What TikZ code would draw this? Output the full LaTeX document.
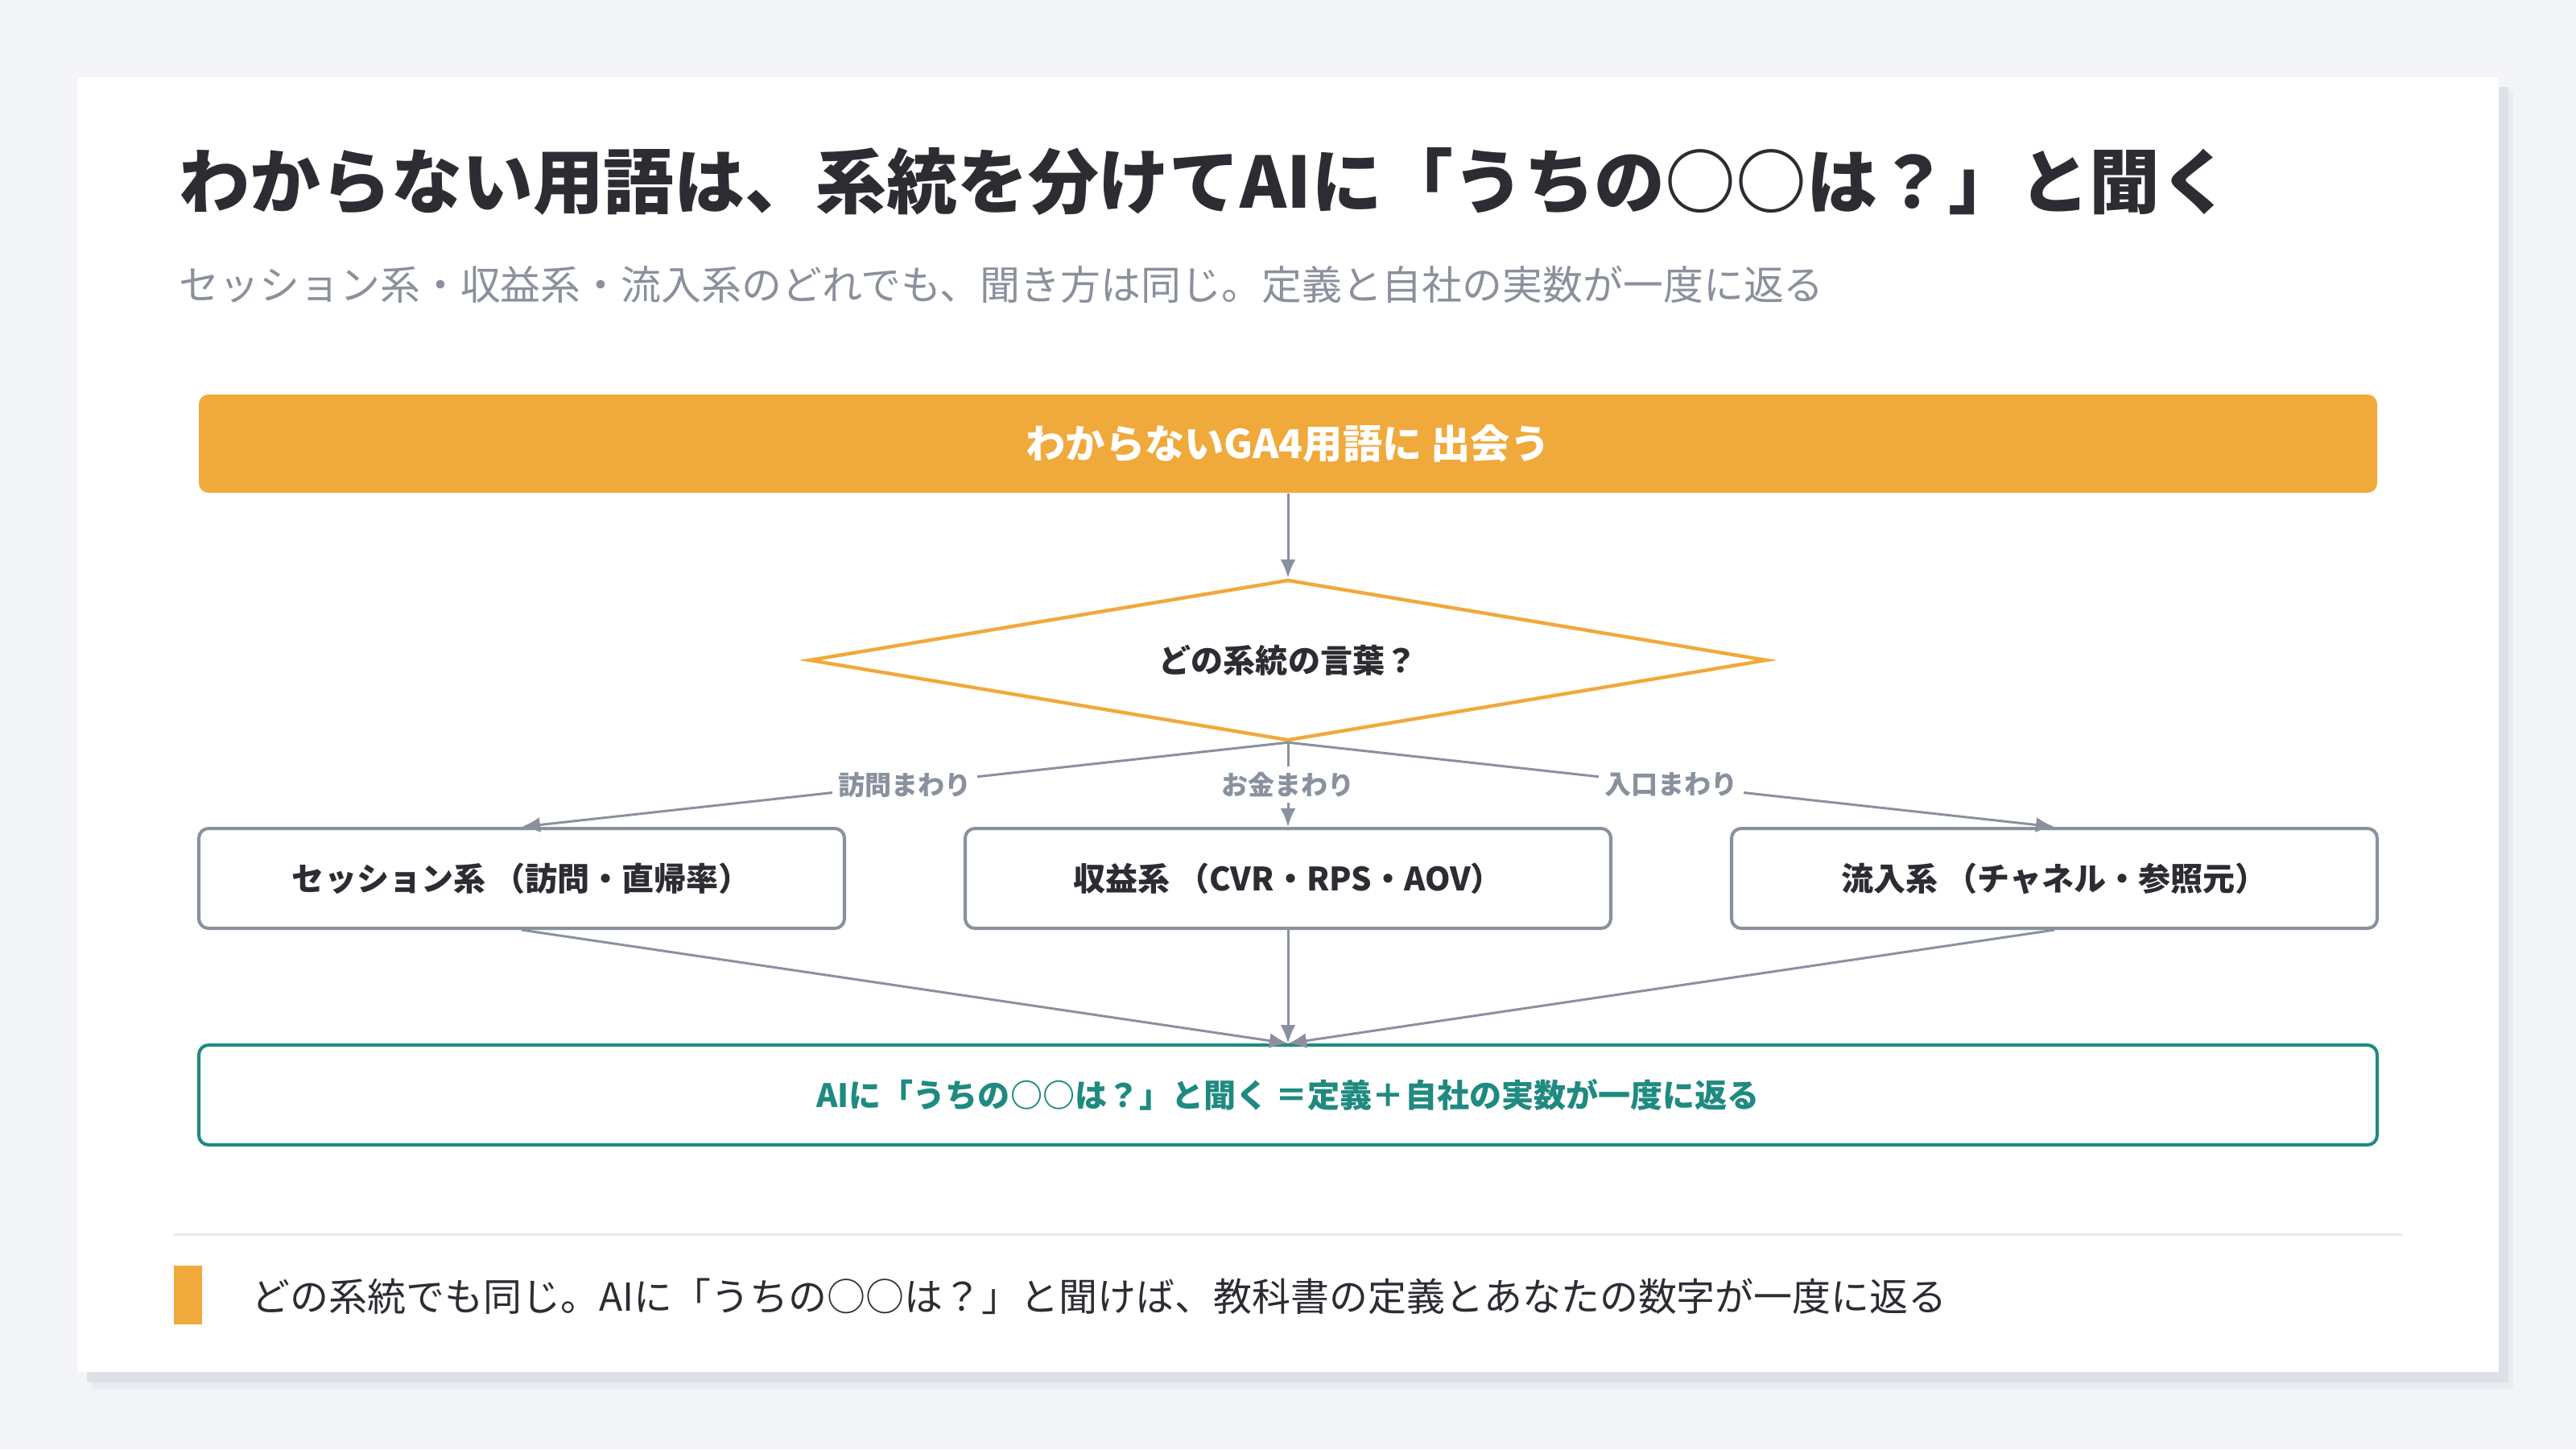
\documentclass[tikz,border=0pt]{standalone}
\usepackage{fontspec}
\setmainfont{Noto Sans CJK JP}
\usepackage{tikz}
\usetikzlibrary{shapes.geometric,arrows.meta,positioning,calc}
\usepackage{xcolor}
\definecolor{pageback}{RGB}{243,244,248}
\definecolor{cardshadow}{RGB}{222,224,231}
\definecolor{cardhalo}{RGB}{234,235,240}
\definecolor{termorange}{RGB}{240,169,59}
\definecolor{flowgray}{RGB}{138,145,158}
\definecolor{answerteal}{RGB}{31,138,128}
\definecolor{inkdark}{RGB}{43,45,51}
\definecolor{subgray}{RGB}{138,144,156}
\definecolor{rulegray}{RGB}{230,233,239}
\tikzset{
    termbar/.style={rectangle, rounded corners=0.12cm, fill=termorange, text=white, minimum width=27.06cm, minimum height=1.22cm, font=\fontsize{14}{16}\selectfont\bfseries},
    decision/.style={diamond, aspect=6, draw=termorange, fill=white, line width=1.25pt, minimum width=11.9cm, minimum height=2cm, inner sep=0pt, text=inkdark, font=\fontsize{11.4}{14}\selectfont\bfseries},
    kindbox/.style={rectangle, rounded corners=0.12cm, draw=flowgray, fill=white, line width=1.15pt, minimum width=8.02cm, minimum height=1.24cm, text=inkdark, font=\fontsize{11.4}{14}\selectfont\bfseries},
    answerbox/.style={rectangle, rounded corners=0.12cm, draw=answerteal, fill=white, line width=1.15pt, minimum width=27.06cm, minimum height=1.24cm, text=answerteal, font=\fontsize{11.4}{14}\selectfont\bfseries},
    flow/.style={draw=flowgray, line width=0.85pt, -{Latex[length=0.23cm,width=0.19cm]}},
    flowlabel/.style={midway, fill=white, inner sep=2pt, text=flowgray, font=\fontsize{9.4}{11}\selectfont\bfseries},
}

\begin{document}
\begin{tikzpicture}[scale=1]
    % Page and card
    \useasboundingbox (0,0) rectangle (32,-18);
    \fill[pageback] (0,0) rectangle (32,-18);
    \fill[cardhalo] (1.14,-1.14) rectangle (31.22,-17.25);
    \fill[cardshadow] (1.08,-1.08) rectangle (31.16,-17.17);
    \fill[white] (0.96,-0.96) rectangle (31.04,-17.04);
    % Heading
    \node[anchor=west, inner sep=0pt, text=inkdark, font=\fontsize{25}{30}\selectfont\bfseries] (title) at (2.22,-2.25) {わからない用語は、系統を分けてAIに「うちの○○は？」と聞く};
    \node[anchor=west, inner sep=0pt, text=subgray, font=\fontsize{14.2}{17}\selectfont] (subtitle) at (2.22,-3.53) {セッション系・収益系・流入系のどれでも、聞き方は同じ。定義と自社の実数が一度に返る};
    % Flow nodes
    \node[termbar] (meet) at (16,-5.51) {わからないGA4用語に 出会う};
    \node[decision] (which) at (16,-8.20) {どの系統の言葉？};
    \node[kindbox] (session) at (6.48,-10.91) {セッション系 （訪問・直帰率）};
    \node[kindbox] (revenue) at (16,-10.91) {収益系 （CVR・RPS・AOV）};
    \node[kindbox] (inflow) at (25.52,-10.91) {流入系 （チャネル・参照元）};
    \node[answerbox] (askai) at (16,-13.60) {AIに「うちの○○は？」と聞く ＝定義＋自社の実数が一度に返る};
    % Connectors
    \draw[flow] (meet) -- (which);
    \draw[flow] (which.south) -- (session.north) node[flowlabel] {訪問まわり};
    \draw[flow] (which.south) -- (revenue.north) node[flowlabel] {お金まわり};
    \draw[flow] (which.south) -- (inflow.north) node[flowlabel] {入口まわり};
    \foreach \k in {session,revenue,inflow} {
        \draw[flow] (\k.south) -- (askai.north);
    }
    % Footer
    \draw[rulegray, line width=0.85pt] (2.16,-15.33) -- (29.84,-15.33);
    \fill[termorange] (2.16,-15.72) rectangle (2.51,-16.45);
    \node[anchor=west, inner sep=0pt, text=inkdark, font=\fontsize{13.65}{16}\selectfont] (summary) at (3.12,-16.10) {どの系統でも同じ。AIに「うちの○○は？」と聞けば、教科書の定義とあなたの数字が一度に返る};
\end{tikzpicture}
\end{document}
